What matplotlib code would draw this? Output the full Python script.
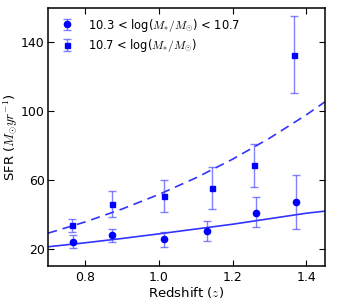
import matplotlib
matplotlib.use("Agg")
import matplotlib.pyplot as plt

plt.rcParams["mathtext.fontset"] = "cm"

# Mittelwerte pro Redshift-Bin
z_lo = [0.768, 0.873, 1.013, 1.130, 1.262, 1.371]
sfr_lo = [23.7, 27.9, 25.6, 30.1, 41.1, 47.1]
err_lo_dn = [3.3, 4.0, 4.4, 5.8, 8.7, 15.5]
err_lo_up = [4.4, 3.9, 3.9, 5.8, 8.8, 15.9]

z_hi = [0.764, 0.873, 1.013, 1.143, 1.259, 1.365]
sfr_hi = [33.6, 46.2, 50.8, 55.3, 68.5, 132.9]
err_hi_dn = [4.1, 7.8, 9.5, 12.2, 12.6, 22.3]
err_hi_up = [3.7, 7.3, 9.3, 12.2, 12.6, 22.3]

# Fit-Kurven
z_fit = [0.70, 0.80, 0.90, 1.00, 1.10, 1.20, 1.30, 1.40, 1.45]
fit_lo = [21.2, 23.5, 26.0, 28.7, 31.5, 34.3, 37.5, 40.7, 41.9]
fit_hi = [29.1, 35.6, 43.1, 51.6, 61.2, 72.1, 84.3, 97.9, 105.4]

xticks = [0.8, 1.0, 1.2, 1.4]
yticks = [20, 60, 100, 140]

fig = plt.figure(figsize=(3.49, 3.03), dpi=100)
ax = fig.add_axes([0.138, 0.122, 0.793, 0.852])

ax.plot(z_fit, fit_lo, color="#0000ff", lw=1.2, alpha=0.8)
ax.plot(z_fit, fit_hi, color="#0000ff", lw=1.2, alpha=0.8, ls=(0, (5.5, 3.5)))

ekw = dict(ecolor=(0.25, 0.25, 1.0, 0.65), elinewidth=1.0, capsize=3, capthick=1.0)
ax.errorbar(z_lo, sfr_lo, yerr=[err_lo_dn, err_lo_up], fmt="o", color="#0000ff",
            ms=4.5, mec="#0000ff", label=r"10.3 < log($M_{*}/M_{\odot}$) < 10.7", **ekw)
ax.errorbar(z_hi, sfr_hi, yerr=[err_hi_dn, err_hi_up], fmt="s", color="#0000ff",
            ms=3.6, mec="#0000ff", label=r"10.7 < log($M_{*}/M_{\odot}$)", **ekw)

ax.set_xlim(0.7, 1.45)
ax.set_ylim(10, 160)
ax.set_xticks(xticks)
ax.set_yticks(yticks)
ax.tick_params(direction="in", top=True, right=True, labelsize=9, length=4)
ax.tick_params(axis="y", pad=2.5)
for s in ax.spines.values():
    s.set_linewidth(1.1)
ax.set_xlabel(r"Redshift ($z$)", fontsize=9.5, labelpad=1)
ax.set_ylabel(r"SFR ($M_{\odot} yr^{-1}$)", fontsize=9.5)
ax.yaxis.set_label_coords(-0.1, 0.5)
ax.legend(loc="upper left", frameon=False, numpoints=1, fontsize=8.3,
          handlelength=1.8, handletextpad=0.9, borderaxespad=0.4, labelspacing=0.3,
          borderpad=0.35)

fig.savefig("out.png", dpi=100)
